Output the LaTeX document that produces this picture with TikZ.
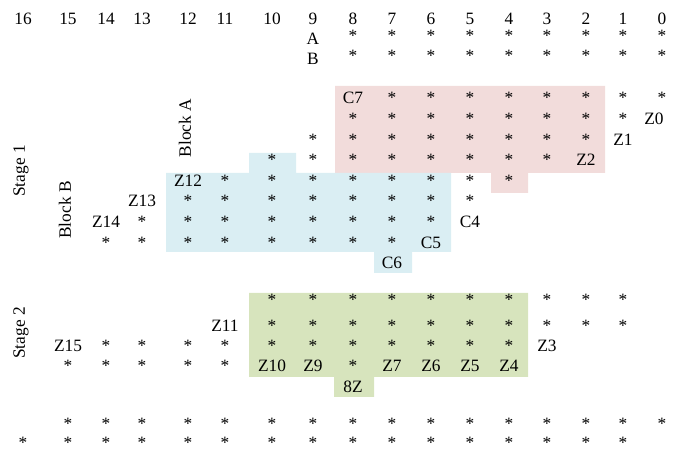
\documentclass[tikz,border=0pt]{standalone}
\usepackage{fontspec}
\setmainfont{Liberation Serif}
\definecolor{pinkbg}{RGB}{242,220,219}
\definecolor{bluebg}{RGB}{218,238,243}
\definecolor{greenbg}{RGB}{215,228,189}
\tikzset{
  cell/.style={font=\fontsize{13}{15}\selectfont, inner sep=0pt, anchor=base},
  side/.style={font=\fontsize{13}{15}\selectfont, inner sep=0pt, rotate=90},
}
\begin{document}
\begin{tikzpicture}[x=0.75pt, y=-0.75pt]
  \useasboundingbox (0,0) rectangle (683,452);
  % x of the columns 0..16
  \def\cx{{662,623,586,547,509,470,431,392,353,313,272,225,188,142,106,68,23}}
  % shaded blocks
  \fill[pinkbg] (335,86) -- (605,86) -- (605,173) -- (528,173) -- (528,193)
    -- (491,193) -- (491,173) -- (335,173) -- cycle;
  \fill[bluebg] (166,173) -- (249,173) -- (249,153) -- (296,153) -- (296,173)
    -- (451,173) -- (451,252) -- (412,252) -- (412,273) -- (374,273)
    -- (374,252) -- (166,252) -- cycle;
  \fill[greenbg] (249,293) -- (528,293) -- (528,377) -- (374,377) -- (374,397)
    -- (334,397) -- (334,377) -- (249,377) -- cycle;
  % column numbers
  \foreach \c in {0,...,16} {
    \pgfmathsetmacro{\x}{\cx[\c]}
    \node[cell] (n\c) at (\x,24.5) {\c};}
  \node[cell] (A) at (313,45) {A};
  \node[cell] (B) at (313,65) {B};
  % rows of stars: y/first/last/name
  \foreach \y/\lo/\hi/\nm in {42/0/8/ta, 62/0/8/tb, 306/1/10/sa, 331.5/1/10/sb,
      352/4/14/sc, 372/11/15/sd, 429.5/0/15/sf, 449/1/16/sg} {
    \foreach \c in {\lo,...,\hi} {
      \pgfmathsetmacro{\x}{\cx[\c]}
      \node[cell] (\nm\c) at (\x,\y) {*};}}
  \node[cell] (sd8) at (353,372) {*};
  % stage 1 (rows 4..11)
  \foreach \r in {4,...,11} {
    \pgfmathsetmacro{\y}{104+20.6*(\r-4)}
    \pgfmathtruncatemacro{\lo}{\r-4}
    \pgfmathtruncatemacro{\hi}{\r+3}
    \foreach \c in {\lo,...,\hi} {
      \pgfmathsetmacro{\x}{\cx[\c]}
      \node[cell] (p\r-\c) at (\x,\y) {*};}}
  \foreach \t/\c/\r in {C7/8/4, Z1/1/6, Z2/2/7, Z12/12/8, Z13/13/9, Z14/14/10,
      C4/5/10, C5/6/11, C6/7/12} {
    \pgfmathsetmacro{\x}{\cx[\c]}
    \pgfmathsetmacro{\y}{104+20.6*(\r-4)}
    \node[cell] (\t) at (\x,\y) {\t};}
  \node[cell] (Z0) at (654,124.6) {Z0};
  % stage 2 labels
  \node[cell] (Z11) at (225,331.5) {Z11};
  \node[cell] (Z15) at (68,352) {Z15};
  \node[cell] (Z3) at (547,352) {Z3};
  \foreach \t/\c in {Z10/10, Z9/9, Z7/7, Z6/6, Z5/5, Z4/4} {
    \pgfmathsetmacro{\x}{\cx[\c]}
    \node[cell] (\t) at (\x,372) {\t};}
  \node[cell] (Z8) at (353,393) {8Z};
  % side labels
  \node[side] (stage1) at (21,171) {Stage 1};
  \node[side] (blockB) at (65,210) {Block B};
  \node[side] (blockA) at (185,128) {Block A};
  \node[side] (stage2) at (21,333) {Stage 2};
\end{tikzpicture}
\end{document}
